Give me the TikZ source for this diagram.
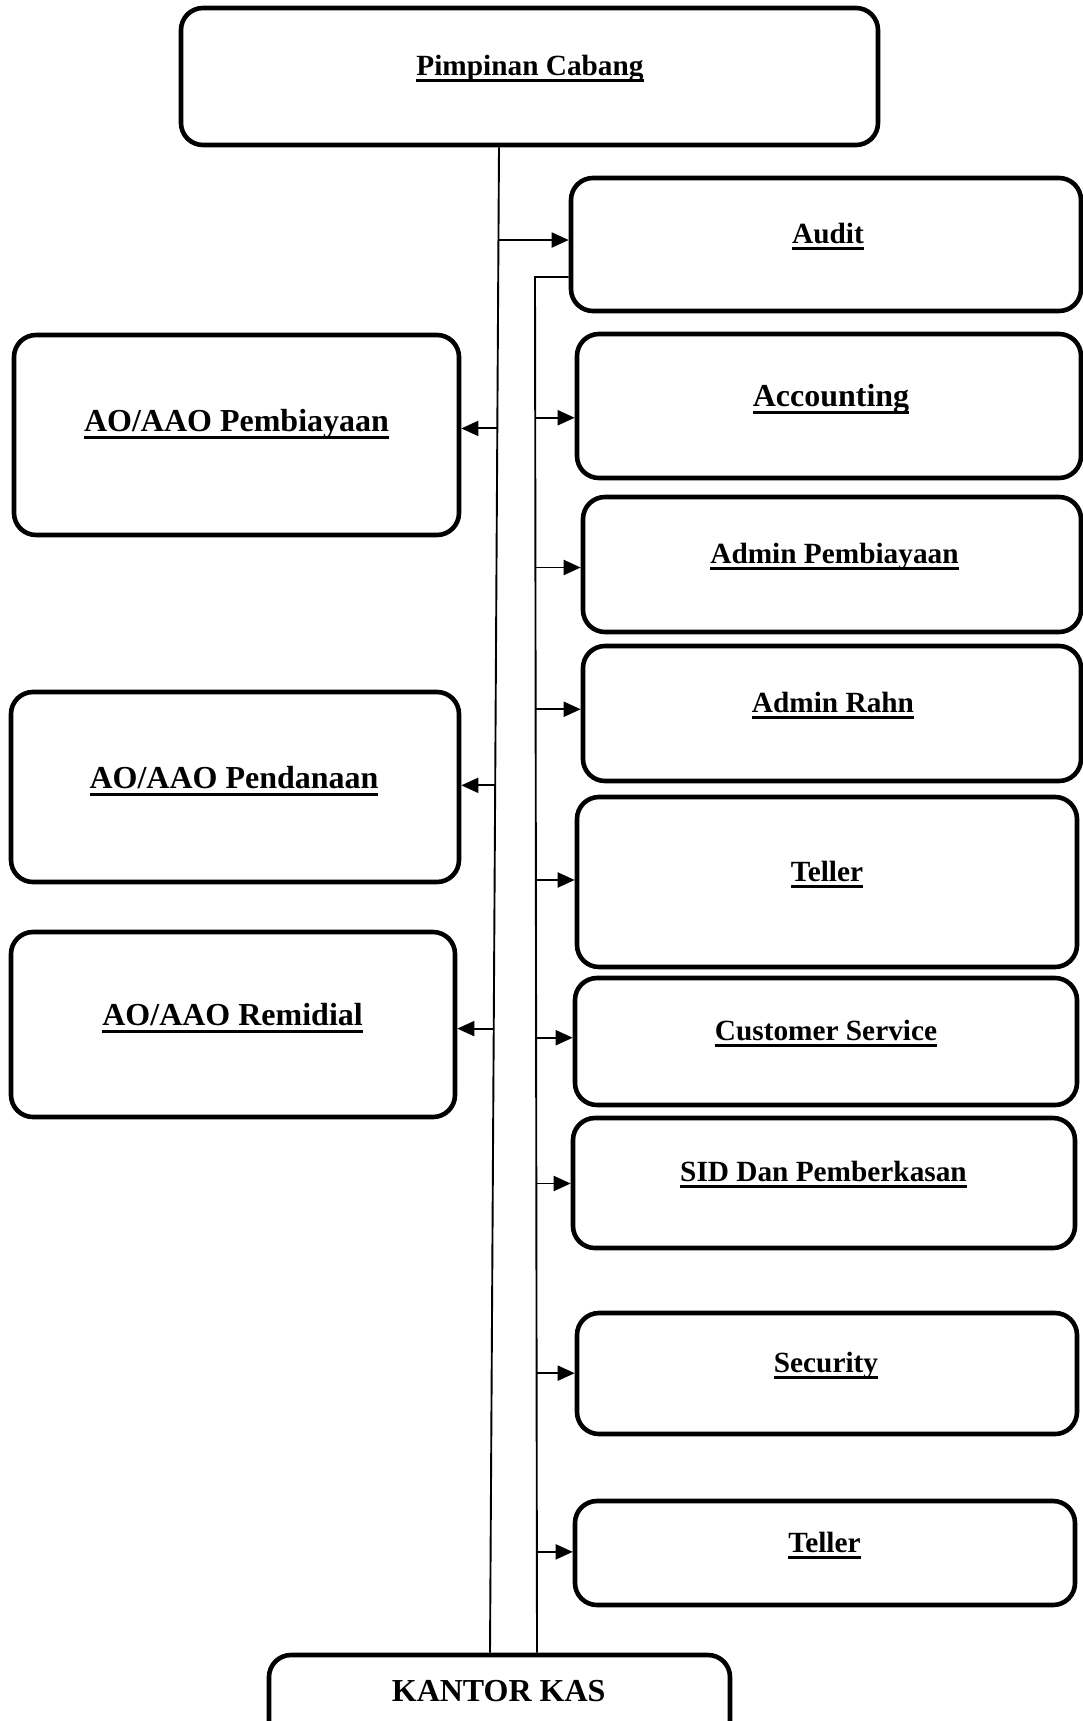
\documentclass[tikz,border=0pt]{standalone}
\usepackage{fontspec}
\setmainfont{Liberation Serif}
\usetikzlibrary{arrows.meta,calc}
\newcommand\ulx[1]{\setbox0\hbox{#1}\rlap{\copy0}\rule[-0.24em]{\wd0}{0.09em}}
\tikzset{
  box/.style={draw, line width=4.6pt, rounded corners=22pt, inner sep=0pt},
  lbl/.style={anchor=base, inner sep=0pt, font=\bfseries\fontsize{29.3}{35}\selectfont},
  lblbig/.style={anchor=base, inner sep=0pt, font=\bfseries\fontsize{32}{38}\selectfont},
  conn/.style={line width=1.9pt},
  arr/.style={conn, -{Triangle[length=17pt,width=15pt]}},
}
\begin{document}
\begin{tikzpicture}[x=1pt,y=-1pt]
\useasboundingbox (0,0) rectangle (1083,1721);
\clip (0,0) rectangle (1083,1721);
% boxes
\node[box, minimum width=697pt, minimum height=137pt] (pc) at (529.5,76.5) {};
\node[box, minimum width=510pt, minimum height=133pt] (audit) at (826,244.5) {};
\node[box, minimum width=504pt, minimum height=144pt] (acc) at (829,406) {};
\node[box, minimum width=498pt, minimum height=135pt] (adminp) at (832,564.5) {};
\node[box, minimum width=498pt, minimum height=135pt] (rahn) at (832,713.5) {};
\node[box, minimum width=500pt, minimum height=170pt] (teller) at (827,882) {};
\node[box, minimum width=502pt, minimum height=127pt] (cs) at (826,1041.5) {};
\node[box, minimum width=502pt, minimum height=130pt] (sid) at (824,1183) {};
\node[box, minimum width=500pt, minimum height=121pt] (sec) at (827,1373.5) {};
\node[box, minimum width=500pt, minimum height=104pt] (tellerb) at (825,1553) {};
\node[box, minimum width=445pt, minimum height=200pt] (aop) at (236.5,435) {};
\node[box, minimum width=448pt, minimum height=190pt] (aod) at (235,787) {};
\node[box, minimum width=444pt, minimum height=185pt] (aor) at (233,1024.5) {};
\node[box, minimum width=461pt, minimum height=105pt] (kk) at (499.5,1707.5) {};
% labels
\node[lbl] (tpc) at (530,75) {\ulx{Pimpinan Cabang}};
\node[lbl] (taudit) at (828,243) {\ulx{Audit}};
\node[lblbig] (tacc) at (831,406) {\ulx{Accounting}};
\node[lbl] (tadminp) at (834.5,563) {\ulx{Admin Pembiayaan}};
\node[lbl] (trahn) at (833,712) {\ulx{Admin Rahn}};
\node[lbl] (tteller) at (827,881) {\ulx{Teller}};
\node[lbl] (tcs) at (826,1040) {\ulx{Customer Service}};
\node[lbl] (tsid) at (823.5,1181) {\ulx{SID Dan Pemberkasan}};
\node[lbl] (tsec) at (826,1372) {\ulx{Security}};
\node[lbl] (ttellerb) at (824.5,1552) {\ulx{Teller}};
\node[lblbig] (taop) at (236.5,431) {\ulx{AO/AAO Pembiayaan}};
\node[lblbig] (taod) at (234,788) {\ulx{AO/AAO Pendanaan}};
\node[lblbig] (taor) at (232.6,1025) {\ulx{AO/AAO Remidial}};
\node[lblbig] (tkk) at (498.7,1701) {KANTOR KAS};
% connector lines
\coordinate (l1top) at (pc.south -| 499,0);
\coordinate (l1bot) at (kk.north -| 490,0);
\coordinate (l2top) at (535,277);
\coordinate (l2bot) at (kk.north -| 537,0);
\draw[conn] (l1top) -- (l1bot);
\draw[conn] (audit.west |- l2top) -- (l2top) -- (l2bot);
% arrow to audit
\coordinate (saudit) at ($(l1top)!{(238-145)/1510}!(l1bot)$);
\draw[arr] (saudit) -- (saudit -| audit.west);
% arrows to right boxes
\foreach \n/\y in {acc/418, adminp/568, rahn/710, teller/881, cs/1039, sid/1185, sec/1375, tellerb/1554}{
  \coordinate (s\n) at ($(l2top)!{(\y-277)/1378}!(l2bot)$);
  \draw[arr] (s\n) -- (s\n -| \n.west);
}
% arrows to left boxes
\foreach \n/\y in {aop/427, aod/785, aor/1029}{
  \coordinate (s\n) at ($(l1top)!{(\y-145)/1510}!(l1bot)$);
  \draw[arr] (s\n) -- (s\n -| \n.east);
}
\end{tikzpicture}
\end{document}
